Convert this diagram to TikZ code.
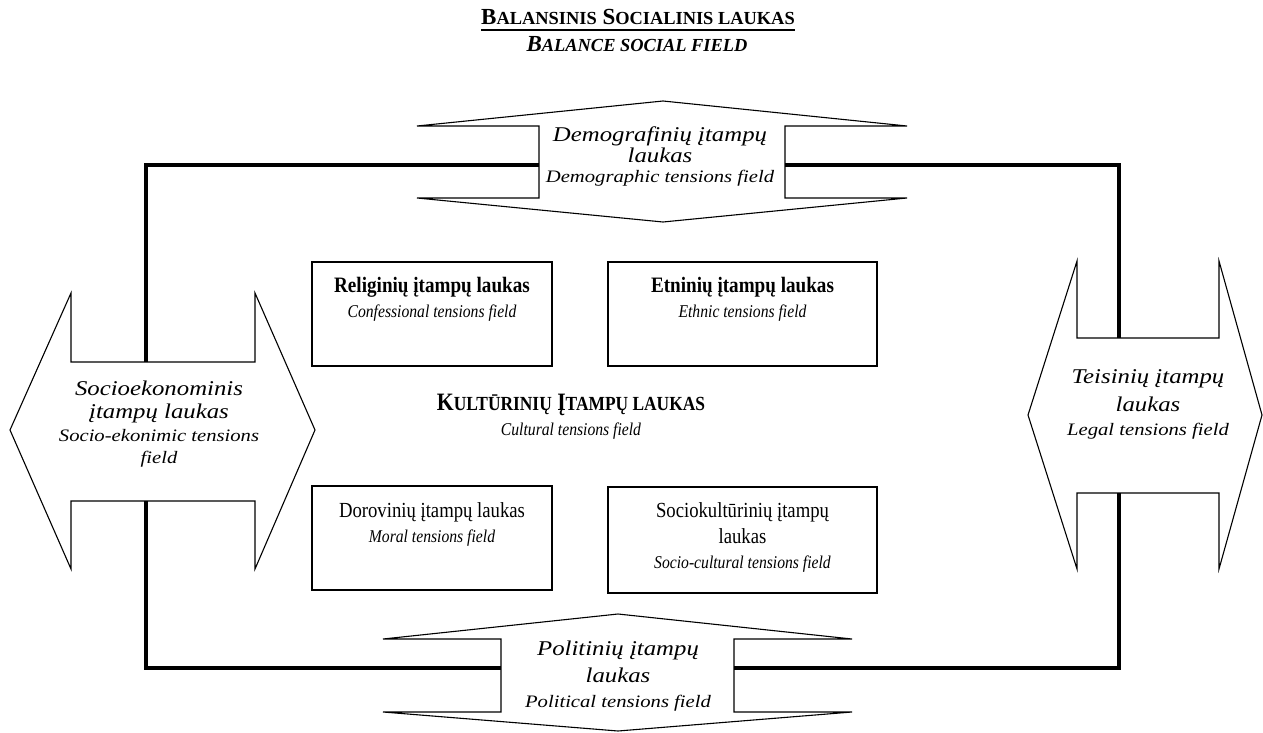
\documentclass[tikz,border=0pt]{standalone}
\usepackage{fontspec}
\usepackage{graphicx}
\setmainfont{Liberation Serif}
\newfontfamily\widefont[FakeStretch=1.18]{Liberation Serif}
\newfontfamily\narrowfont[FakeStretch=0.87]{Liberation Serif}
\newcommand\smallpart[1]{\scalebox{0.8}{#1}}
\tikzset{
  thinline/.style={line width=1.1pt, line join=miter},
  thickline/.style={line width=3.2pt, line join=miter},
  boxstyle/.style={draw, line width=1.4pt, inner sep=0pt},
  txt/.style={anchor=base, inner sep=0pt},
  shapeA/.style={txt, font=\widefont\itshape\fontsize{21}{22}\selectfont},
  shapeB/.style={txt, font=\widefont\itshape\fontsize{17.5}{20}\selectfont},
  boxbold/.style={txt, font=\narrowfont\bfseries\fontsize{22}{24}\selectfont},
  boxreg/.style={txt, font=\narrowfont\fontsize{21.5}{24}\selectfont},
  boxit/.style={txt, font=\narrowfont\itshape\fontsize{18}{20}\selectfont},
}
\begin{document}
\begin{tikzpicture}[x=1pt,y=-1pt]
\useasboundingbox (0,0) rectangle (1263,733);

% Title
\node[txt, font=\bfseries\fontsize{23}{25}\selectfont] (title) at (638,25)
  {B\smallpart{ALANSINIS} S\smallpart{OCIALINIS LAUKAS}};
\draw[line width=1.8pt] ([yshift=-5pt]title.base west) -- ([yshift=-5pt]title.base east);
\node[txt, font=\bfseries\itshape\fontsize{23}{25}\selectfont] (subtitle) at (637,52)
  {B\smallpart{ALANCE SOCIAL FIELD}};

% Top shape (Demografiniu)
\draw[thinline] (663,101) -- (907,126) -- (785,126) -- (785,198) -- (907,198)
  -- (663,222) -- (417,198) -- (539,198) -- (539,126) -- (417,126) -- cycle;
\coordinate (demoW) at (539,165);
\coordinate (demoE) at (785,165);
\node[shapeA] (demo1) at (660,142) {Demografinių įtampų};
\node[shapeA] (demo2) at (660,162) {laukas};
\node[shapeB] (demo3) at (660,182) {Demographic tensions field};

% Bottom shape (Politiniu)
\draw[thinline] (618,614) -- (852,639) -- (734,639) -- (734,712) -- (852,712)
  -- (618,731) -- (383,712) -- (501,712) -- (501,639) -- (383,639) -- cycle;
\coordinate (poliW) at (501,668);
\coordinate (poliE) at (734,668);
\node[shapeA] (poli1) at (618,655) {Politinių įtampų};
\node[shapeA] (poli2) at (618,682) {laukas};
\node[shapeB] (poli3) at (618,707) {Political tensions field};

% Left shape (Socioekonominis)
\draw[thinline] (10,430) -- (71,293) -- (71,362) -- (255,362) -- (255,293)
  -- (315,430) -- (255,569) -- (255,501) -- (71,501) -- (71,569) -- cycle;
\coordinate (socN) at (146,362);
\coordinate (socS) at (146,501);
\node[shapeA] (soc1) at (159,395) {Socioekonominis};
\node[shapeA] (soc2) at (159,418) {įtampų laukas};
\node[shapeB] (soc3) at (159,441) {Socio-ekonimic tensions};
\node[shapeB] (soc4) at (159,463) {field};

% Right shape (Teisiniu)
\draw[thinline] (1028,415) -- (1077,261) -- (1077,338) -- (1219,338) -- (1219,261)
  -- (1262,415) -- (1219,569) -- (1219,493) -- (1077,493) -- (1077,569) -- cycle;
\coordinate (legN) at (1119,338);
\coordinate (legS) at (1119,493);
\node[shapeA] (leg1) at (1148,383) {Teisinių įtampų};
\node[shapeA] (leg2) at (1148,411) {laukas};
\node[shapeB] (leg3) at (1148,435) {Legal tensions field};

% Connectors
\draw[thickline] (demoW) -| (socN);
\draw[thickline] (demoE) -| (legN);
\draw[thickline] (poliW) -| (socS);
\draw[thickline] (poliE) -| (legS);

% Boxes
\node[boxstyle, minimum width=240pt, minimum height=104pt] (rel) at (432,314) {};
\node[boxbold] (rel1) at (432,292) {Religinių įtampų laukas};
\node[boxit] (rel2) at (432,317) {Confessional tensions field};

\node[boxstyle, minimum width=269pt, minimum height=104pt] (eth) at (742.5,314) {};
\node[boxbold] (eth1) at (742.5,292) {Etninių įtampų laukas};
\node[boxit] (eth2) at (742.5,317) {Ethnic tensions field};

\node[boxstyle, minimum width=240pt, minimum height=104pt] (dor) at (432,538) {};
\node[boxreg] (dor1) at (432,517) {Dorovinių įtampų laukas};
\node[boxit] (dor2) at (432,542) {Moral tensions field};

\node[boxstyle, minimum width=269pt, minimum height=106pt] (skt) at (742.5,540) {};
\node[boxreg] (skt1) at (742.5,517) {Sociokultūrinių įtampų};
\node[boxreg] (skt2) at (742.5,543) {laukas};
\node[boxit] (skt3) at (742.5,568) {Socio-cultural tensions field};

% Centre
\node[txt, font=\narrowfont\bfseries\fontsize{25}{27}\selectfont] (cult1) at (571,410)
  {K\smallpart{ULTŪRINIŲ} Į\smallpart{TAMPŲ LAUKAS}};
\node[boxit] (cult2) at (571,435) {Cultural tensions field};
\end{tikzpicture}
\end{document}
